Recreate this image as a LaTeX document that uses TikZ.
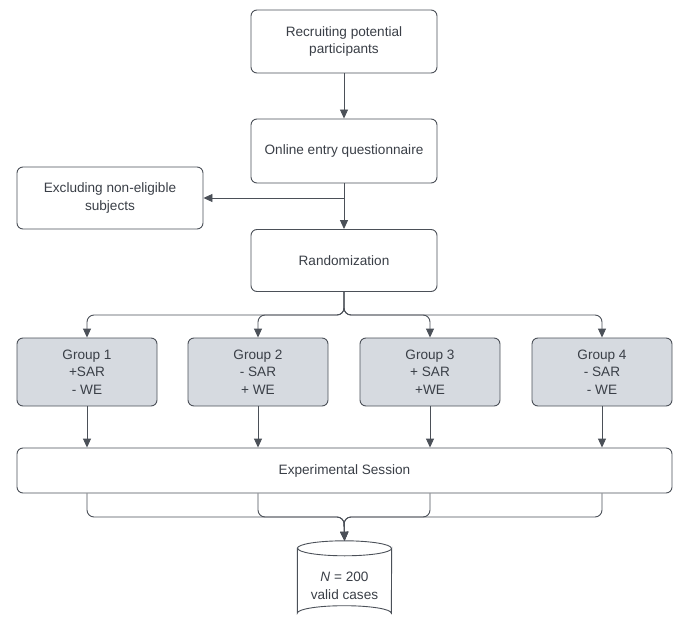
\documentclass[tikz,border=0pt]{standalone}
\usepackage{fontspec}
\setmainfont{Liberation Sans}
\usetikzlibrary{arrows.meta,calc}
\definecolor{ln}{HTML}{4B5058}
\definecolor{tx}{HTML}{3A3F47}
\definecolor{gf}{HTML}{D6DAE0}
\tikzset{
  box/.style={draw=ln, line width=0.9pt, rounded corners=6pt, fill=white, align=center,
    text=tx, font=\fontsize{13.6}{17.5}\selectfont, inner sep=0pt},
  grp/.style={box, fill=gf, minimum width=140pt, minimum height=68pt},
  big/.style={box, minimum width=186pt},
  arr/.style={draw=ln, line width=0.9pt, -{Triangle[width=8pt,length=9pt]}},
  ln/.style={draw=ln, line width=0.9pt},
}
\begin{document}
\begin{tikzpicture}[x=1pt,y=-1pt]
\useasboundingbox (0,0) rectangle (685,628);
\node[big, minimum height=63pt] (rec) at (344,41.5) {Recruiting potential\\participants};
\node[big, minimum height=64pt] (onl) at (344,151) {Online entry questionnaire};
\node[big, minimum height=62pt] (exc) at (110,198) {Excluding non-eligible\\subjects};
\node[big, minimum height=62pt] (rand) at (344,260.5) {Randomization};
\node[grp] (g1) at (87,372) {Group 1\\+SAR\\- WE};
\node[grp] (g2) at (258,372) {Group 2\\- SAR\\+ WE};
\node[grp] (g3) at (430,372) {Group 3\\+ SAR\\+WE};
\node[grp] (g4) at (602,372) {Group 4\\- SAR\\- WE};
\node[box, minimum width=655pt, minimum height=45pt] (es) at (344.5,470.5) {Experimental Session};
\node[minimum width=94pt, minimum height=78pt, inner sep=0pt] (db) at (344.5,580) {};
\coordinate (split) at (344,315);
\coordinate (merge) at (344,517);
% cylinder
\draw[ln] (db.north west) ++(0,7.5) -- ($(db.south west)+(0,-6)$)
  arc[start angle=180, end angle=360, x radius=47pt, y radius=-7.5pt]
  -- ($(db.north east)+(0,7.5)$)
  arc[start angle=0, end angle=180, x radius=47pt, y radius=-7.5pt] -- cycle;
\draw[ln] ($(db.north west)+(0,7.5)$) arc[start angle=180, end angle=360, x radius=47pt, y radius=-7.5pt];
\node[align=center, text=tx, font=\fontsize{13.6}{17.5}\selectfont] (dbtext) at (344.5,586) {\textit{N} = 200\\valid cases};
% connectors
\draw[arr] (rec) -- (onl);
\draw[arr] (onl) -- (rand);
\draw[arr] (onl.south |- exc.east) -- (exc.east);
\foreach \g in {g1,g2,g3,g4}{
  \draw[arr, rounded corners=7pt] (rand.south) |- (\g.north |- split) -- (\g.north);
  \draw[arr] (\g) -- (\g.south |- es.north);
  \draw[arr, rounded corners=7pt] (\g.south |- es.south) |- (merge) -- (db.north);
}
\end{tikzpicture}
\end{document}
